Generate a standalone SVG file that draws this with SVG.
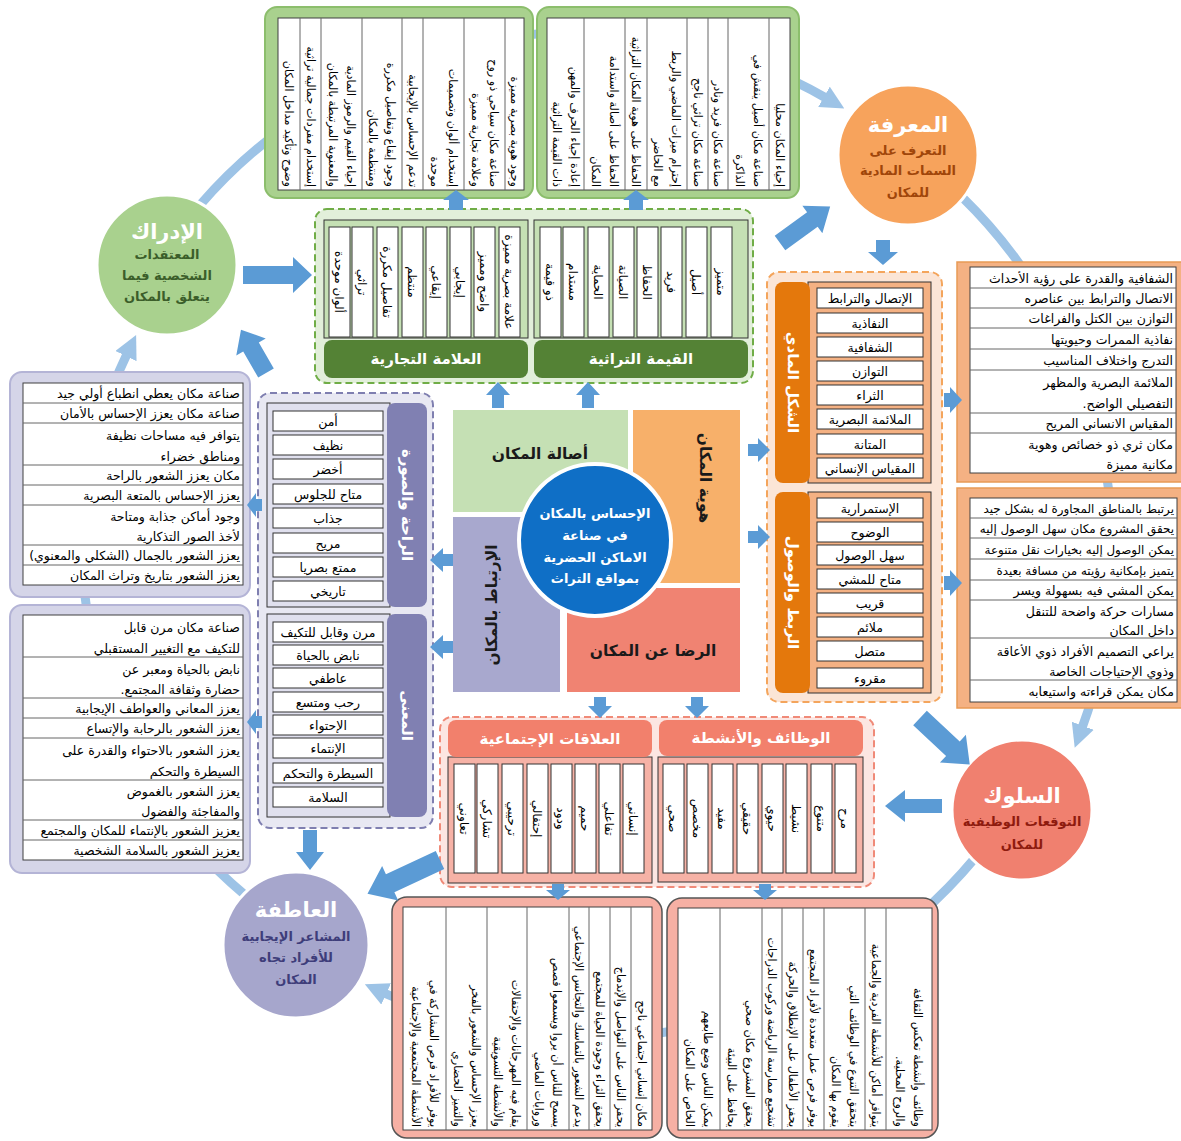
<svg xmlns="http://www.w3.org/2000/svg" width="1181" height="1141" viewBox="0 0 1181 1141">
<defs>
<style>
text{font-family:"DejaVu Sans","Liberation Sans",sans-serif;direction:rtl}
.ct{font-size:11.2px;fill:#000}
.cw{font-size:12px;fill:#000;text-anchor:middle}
.lt{font-size:12.5px;fill:#000}
.ls{font-size:11.9px;fill:#000}
.it{font-size:12.5px;fill:#000;text-anchor:middle}
.hd{font-size:15px;font-weight:bold;fill:#fff;text-anchor:middle}
.ti{font-size:21px;font-weight:bold;fill:#fff;text-anchor:middle}
.st{font-size:13px;font-weight:bold;text-anchor:middle}
.sq{font-size:15.5px;font-weight:bold;fill:#1a1a1a;text-anchor:middle}
.cell{fill:#fff;stroke:#333;stroke-width:1}
.box{fill:#fff;stroke:#333;stroke-width:1}
.tbl{fill:#fff;stroke:#404040;stroke-width:1}
.ln{stroke:#666;stroke-width:1;fill:none}
.ba{fill:#5B9BD5}
.cyc{fill:none;stroke:#9DC3E6;stroke-width:9;marker-end:url(#ah)}
</style>
<marker id="ah" viewBox="0 0 10 10" refX="1" refY="5" markerWidth="2.6" markerHeight="2.6" orient="auto" markerUnits="strokeWidth"><path d="M0,0 L10,5 L0,10 z" fill="#9DC3E6"/></marker>
</defs>
<rect width="1181" height="1141" fill="#fff"/>

<g id="cycle-arcs">
<path class="cyc" d="M200 205 A 500 500 0 0 1 826 98"/>
<path class="cyc" d="M962 197 A 500 500 0 0 1 1082 728"/>
<path class="cyc" d="M975 858 A 500 500 0 0 1 384 993"/>
<path class="cyc" d="M245 895 A 450 450 0 0 1 127 354"/>
</g>

<g id="perception-list">
<rect x="265" y="7" width="268" height="191" rx="12" fill="#A9D18E" stroke="#8CBE6C" stroke-width="2"/>
<rect class="tbl" x="278" y="18" width="246" height="172"/>
<path class="ln" d="M300 18V190M321 18V190M362 18V190M402 18V190M423 18V190M464 18V190M505 18V190"/>
<text class="ct" transform="translate(514.5,187) rotate(90)" y="3.9">وجود هوية بصرية مميزة</text>
<text class="ct" transform="translate(484.5,187) rotate(90)"><tspan x="0" y="-5.1">صناعة مكان سياحي ذو روح</tspan><tspan x="0" y="12.9">وعلامة تجارية مميزة</tspan></text>
<text class="ct" transform="translate(443.5,187) rotate(90)"><tspan x="0" y="-5.1">إستخدام ألوان وتصميمات</tspan><tspan x="0" y="12.9">موحدة</tspan></text>
<text class="ct" transform="translate(412.5,187) rotate(90)" y="3.9">تدعم الإحساس بالإيجابية</text>
<text class="ct" transform="translate(382,187) rotate(90)"><tspan x="0" y="-5.1">وجود إيقاع وتفاصيل مكررة</tspan><tspan x="0" y="12.9">ومنتظمة بالمكان</tspan></text>
<text class="ct" transform="translate(341.5,187) rotate(90)"><tspan x="0" y="-5.1">إحياء القيم والرموز المادية</tspan><tspan x="0" y="12.9">والمعنوية المرتبطة بالمكان</tspan></text>
<text class="ct" transform="translate(310.5,187) rotate(90)" y="3.9">إستخدام مفردات جمالية تراثية</text>
<text class="ct" transform="translate(289,187) rotate(90)" y="3.9">وضوح وتأكيد مداخل المكان</text>
</g>

<g id="heritage-list">
<rect x="537" y="7" width="262" height="191" rx="12" fill="#A9D18E" stroke="#8CBE6C" stroke-width="2"/>
<rect class="tbl" x="547" y="18" width="243" height="172"/>
<path class="ln" d="M584 18V190M625 18V190M647 18V190M687 18V190M708 18V190M728 18V190M769 18V190"/>
<text class="ct" transform="translate(779.5,187) rotate(90)" y="3.9">إحياء المكان محليا</text>
<text class="ct" transform="translate(748.5,187) rotate(90)"><tspan x="0" y="-5.1">صناعة مكان أصيل ينقش في</tspan><tspan x="0" y="12.9">الذاكرة</tspan></text>
<text class="ct" transform="translate(718,187) rotate(90)" y="3.9">صناعة مكان فريد ونادر</text>
<text class="ct" transform="translate(697.5,187) rotate(90)" y="3.9">صناعة مكان تراثي ناجح</text>
<text class="ct" transform="translate(667,187) rotate(90)"><tspan x="0" y="-5.1">إحترام ميزات الماضي والربط</tspan><tspan x="0" y="12.9">مع الحاضر</tspan></text>
<text class="ct" transform="translate(636,187) rotate(90)" y="3.9">الحفاظ على هوية المكان التراثية</text>
<text class="ct" transform="translate(604.5,187) rotate(90)"><tspan x="0" y="-5.1">الحفاظ على أصالة واستدامة</tspan><tspan x="0" y="12.9">المكان</tspan></text>
<text class="ct" transform="translate(565.5,187) rotate(90)"><tspan x="0" y="-5.1">إعادة إحياء الحرف والمهن</tspan><tspan x="0" y="12.9">ذات القيمة التراثية</tspan></text>
</g>

<g id="authenticity-group">
<rect x="315" y="209" width="438" height="174" rx="12" fill="#E2EFDA" stroke="#70AD47" stroke-width="2" stroke-dasharray="7 4"/>
<rect x="324" y="220" width="204" height="118" fill="#C5E0B4" stroke="#333"/>
<rect x="324" y="340" width="204" height="38" rx="8" fill="#548235"/>
<text class="hd" x="426" y="364">العلامة التجارية</text>
<rect class="cell" x="329" y="227" width="21" height="110"/>
<rect class="cell" x="352" y="227" width="21" height="110"/>
<rect class="cell" x="377" y="227" width="21" height="110"/>
<rect class="cell" x="402" y="227" width="21" height="110"/>
<rect class="cell" x="426" y="227" width="21" height="110"/>
<rect class="cell" x="450" y="227" width="21" height="110"/>
<rect class="cell" x="474" y="227" width="21" height="110"/>
<rect class="cell" x="499" y="227" width="21" height="110"/>
<text class="cw" transform="translate(339.5,282) rotate(90)" y="4.2">ألوان موحدة</text>
<text class="cw" transform="translate(362.5,282) rotate(90)" y="4.2">تراثي</text>
<text class="cw" transform="translate(387.5,282) rotate(90)" y="4.2">تفاصيل مكررة</text>
<text class="cw" transform="translate(412.5,282) rotate(90)" y="4.2">منتظم</text>
<text class="cw" transform="translate(436.5,282) rotate(90)" y="4.2">إيقاعي</text>
<text class="cw" transform="translate(460.5,282) rotate(90)" y="4.2">إيجابي</text>
<text class="cw" transform="translate(484.5,282) rotate(90)" y="4.2">واضح ومميز</text>
<text class="cw" transform="translate(509.5,282) rotate(90)" y="4.2">علامة بصرية مميزة</text>
<rect x="534" y="220" width="214" height="118" fill="#C5E0B4" stroke="#333"/>
<rect x="534" y="340" width="214" height="38" rx="8" fill="#548235"/>
<text class="hd" x="641" y="364">القيمة التراثية</text>
<rect class="cell" x="540" y="227" width="21" height="110"/>
<rect class="cell" x="563" y="227" width="21" height="110"/>
<rect class="cell" x="588" y="227" width="21" height="110"/>
<rect class="cell" x="613" y="227" width="21" height="110"/>
<rect class="cell" x="637" y="227" width="21" height="110"/>
<rect class="cell" x="661" y="227" width="21" height="110"/>
<rect class="cell" x="686" y="227" width="21" height="110"/>
<rect class="cell" x="711" y="227" width="21" height="110"/>
<text class="cw" transform="translate(550.5,282) rotate(90)" y="4.2">ذو قيمة</text>
<text class="cw" transform="translate(573.5,282) rotate(90)" y="4.2">مستدام</text>
<text class="cw" transform="translate(598.5,282) rotate(90)" y="4.2">الحماية</text>
<text class="cw" transform="translate(623.5,282) rotate(90)" y="4.2">الصيانة</text>
<text class="cw" transform="translate(647.5,282) rotate(90)" y="4.2">الحفاظ</text>
<text class="cw" transform="translate(671.5,282) rotate(90)" y="4.2">فريد</text>
<text class="cw" transform="translate(696.5,282) rotate(90)" y="4.2">أصيل</text>
<text class="cw" transform="translate(721.5,282) rotate(90)" y="4.2">متميز</text>
</g>

<g id="identity-group">
<rect x="767" y="272" width="175" height="430" rx="12" fill="#FBE5D6" stroke="#F4A55C" stroke-width="2" stroke-dasharray="7 4"/>
<rect x="808" y="282" width="123" height="201" fill="#F4B183" stroke="#333"/>
<rect x="775" y="282" width="35" height="201" rx="8" fill="#E4780C"/>
<text class="hd" transform="translate(792.5,382.5) rotate(90)" y="5">الشكل المادي</text>
<rect class="box" x="817" y="288" width="106" height="20"/>
<rect class="box" x="817" y="313" width="106" height="20"/>
<rect class="box" x="817" y="337" width="106" height="20"/>
<rect class="box" x="817" y="361" width="106" height="20"/>
<rect class="box" x="817" y="385" width="106" height="20"/>
<rect class="box" x="817" y="409" width="106" height="20"/>
<rect class="box" x="817" y="434" width="106" height="20"/>
<rect class="box" x="817" y="458" width="106" height="20"/>
<text class="it" x="870" y="302.5">الإتصال والترابط</text>
<text class="it" x="870" y="327.5">النفاذية</text>
<text class="it" x="870" y="351.5">الشفافية</text>
<text class="it" x="870" y="375.5">التوازن</text>
<text class="it" x="870" y="399.5">الثراء</text>
<text class="it" x="870" y="423.5">الملائمة البصرية</text>
<text class="it" x="870" y="448.5">المتانة</text>
<text class="it" x="870" y="472.5">المقياس الإنساني</text>
<rect x="808" y="492" width="123" height="201" fill="#F4B183" stroke="#333"/>
<rect x="775" y="492" width="35" height="201" rx="8" fill="#E4780C"/>
<text class="hd" transform="translate(792.5,592.5) rotate(90)" y="5">الربط والوصول</text>
<rect class="box" x="817" y="498" width="106" height="20"/>
<rect class="box" x="817" y="522" width="106" height="20"/>
<rect class="box" x="817" y="545" width="106" height="20"/>
<rect class="box" x="817" y="569" width="106" height="20"/>
<rect class="box" x="817" y="593" width="106" height="20"/>
<rect class="box" x="817" y="617" width="106" height="20"/>
<rect class="box" x="817" y="641" width="106" height="20"/>
<rect class="box" x="817" y="668" width="106" height="20"/>
<text class="it" x="870" y="512.5">الإستمرارية</text>
<text class="it" x="870" y="536.5">الوضوح</text>
<text class="it" x="870" y="559.5">سهل الوصول</text>
<text class="it" x="870" y="583.5">متاح للمشي</text>
<text class="it" x="870" y="607.5">قريب</text>
<text class="it" x="870" y="631.5">ملائم</text>
<text class="it" x="870" y="655.5">متصل</text>
<text class="it" x="870" y="682.5">مقروء</text>
</g>

<g id="form-list">
<rect x="957" y="262" width="226" height="220" fill="#F4B183" stroke="#E89A55" stroke-width="1.5"/>
<rect class="tbl" x="970" y="267" width="206" height="206"/>
<path class="ln" d="M970 288H1176M970 308H1176M970 328H1176M970 349H1176M970 370H1176M970 413H1176M970 433H1176"/>
<text class="lt" x="1173" y="282.5">الشفافية والقدرة على رؤية الأحداث</text>
<text class="lt" x="1173" y="302.5">الاتصال والترابط بين عناصره</text>
<text class="lt" x="1173" y="322.5">التوازن بين الكتل والفراغات</text>
<text class="lt" x="1173" y="343.5">نفاذية الممرات وحيويتها</text>
<text class="lt" x="1173" y="364.5">التدرج واختلاف المناسيب</text>
<text class="lt" x="1173" y="386.5">الملائمة البصرية والمظهر</text>
<text class="lt" x="1173" y="407.5">التفصيلي الواضح.</text>
<text class="lt" x="1173" y="427.5">المقياس الانساني المريح</text>
<text class="lt" x="1173" y="448.5">مكان ثري ذو خصائص وهوية</text>
<text class="lt" x="1173" y="468.5">مكانية مميزة</text>
</g>

<g id="access-list">
<rect x="957" y="488" width="226" height="220" fill="#F4B183" stroke="#E89A55" stroke-width="1.5"/>
<rect class="tbl" x="970" y="498" width="207" height="204"/>
<path class="ln" d="M970 518H1177M970 538H1177M970 559H1177M970 580H1177M970 600H1177M970 638H1177M970 680H1177"/>
<text class="ls" x="1174" y="512.5">يرتبط بالمناطق المجاورة له بشكل جيد</text>
<text class="ls" x="1174" y="532.5">يحقق المشروع مكان سهل الوصول إليه</text>
<text class="ls" x="1174" y="553.5">يمكن الوصول إليه بخيارات نقل متنوعة</text>
<text class="ls" x="1174" y="574.5">يتميز بإمكانية رؤيته من مسافة بعيدة</text>
<text class="lt" x="1174" y="594.5">يمكن المشي فيه بسهولة ويسر</text>
<text class="lt" x="1174" y="615.5">مسارات حركة واضحة للتنقل</text>
<text class="lt" x="1174" y="634.5">داخل المكان</text>
<text class="lt" x="1174" y="655.5">يراعي التصميم الأفراد ذوي الأعاقة</text>
<text class="lt" x="1174" y="675.5">وذوي الإحتياجات الخاصة</text>
<text class="lt" x="1174" y="695.5">مكان يمكن قراءته واستيعابه</text>
</g>

<g id="comfort-list">
<rect x="10" y="372" width="240" height="225" rx="12" fill="#D5D5E8" stroke="#B4B4D6" stroke-width="2"/>
<rect class="tbl" x="23" y="383" width="220" height="202"/>
<path class="ln" d="M23 403H243M23 423H243M23 465H243M23 485H243M23 505H243M23 545H243M23 565H243"/>
<text class="lt" x="240" y="397.5">صناعة مكان يعطي انطباع أولي جيد</text>
<text class="lt" x="240" y="417.5">صناعة مكان يعزز الإحساس بالأمان</text>
<text class="lt" x="240" y="439.5">يتوافر فيه مساحات نظيفة</text>
<text class="lt" x="240" y="460.5">ومناطق خضراء</text>
<text class="lt" x="240" y="479.5">مكان يعزز الشعور بالراحة</text>
<text class="lt" x="240" y="499.5">يعزز الإحساس بالمتعة البصرية</text>
<text class="lt" x="240" y="520.5">وجود أماكن جذابة ومتاحة</text>
<text class="lt" x="240" y="540.5">لأخذ الصور التذكارية</text>
<text class="lt" x="240" y="559.5">يعزز الشعور بالجمال (الشكلي والمعنوي)</text>
<text class="lt" x="240" y="579.5">يعزز الشعور بتاريخ وتراث المكان</text>
</g>

<g id="meaning-list">
<rect x="10" y="605" width="240" height="268" rx="12" fill="#D5D5E8" stroke="#B4B4D6" stroke-width="2"/>
<rect class="tbl" x="23" y="615" width="220" height="245"/>
<path class="ln" d="M23 657H243M23 698H243M23 718H243M23 738H243M23 780H243M23 820H243M23 840H243"/>
<text class="lt" x="240" y="631.5">صناعة مكان مرن قابل</text>
<text class="lt" x="240" y="652.5">للتكيف مع التغيير المستقبلي</text>
<text class="lt" x="240" y="673.5">نابض بالحياة ومعبر عن</text>
<text class="lt" x="240" y="693.5">حضارة وثقافة المجتمع.</text>
<text class="lt" x="240" y="712.5">يعزز المعاني والعواطف الإيجابية</text>
<text class="lt" x="240" y="732.5">يعزز الشعور بالرحابة والإتساع</text>
<text class="lt" x="240" y="754.5">يعزز الشعور بالاحتواء والقدرة على</text>
<text class="lt" x="240" y="775.5">السيطرة والتحكم</text>
<text class="lt" x="240" y="795.5">يعزز الشعور بالغموض</text>
<text class="lt" x="240" y="815.5">والمفاجئة والفضول</text>
<text class="lt" x="240" y="834.5">يعزيز الشعور بالإنتماء للمكان والمجتمع</text>
<text class="lt" x="240" y="854.5">يعزيز الشعور بالسلامة الشخصية</text>
</g>

<g id="attachment-group">
<rect x="258" y="393" width="175" height="435" rx="12" fill="#E8E8F2" stroke="#7F7FB0" stroke-width="2" stroke-dasharray="7 4"/>
<rect x="267" y="403" width="123" height="204" fill="#E0E0EE" stroke="#333"/>
<rect x="387" y="403" width="40" height="204" rx="8" fill="#8080B2"/>
<text class="hd" transform="translate(407,505) rotate(90)" y="5">الراحة والصورة</text>
<rect class="box" x="273" y="411" width="110" height="20"/>
<rect class="box" x="273" y="435" width="110" height="20"/>
<rect class="box" x="273" y="459" width="110" height="20"/>
<rect class="box" x="273" y="484" width="110" height="20"/>
<rect class="box" x="273" y="508" width="110" height="20"/>
<rect class="box" x="273" y="533" width="110" height="20"/>
<rect class="box" x="273" y="557" width="110" height="20"/>
<rect class="box" x="273" y="581" width="110" height="20"/>
<text class="it" x="328" y="425.5">أمن</text>
<text class="it" x="328" y="449.5">نظيف</text>
<text class="it" x="328" y="473.5">أخضر</text>
<text class="it" x="328" y="498.5">متاح للجلوس</text>
<text class="it" x="328" y="522.5">جذاب</text>
<text class="it" x="328" y="547.5">مريح</text>
<text class="it" x="328" y="571.5">ممتع بصريا</text>
<text class="it" x="328" y="595.5">تاريخي</text>
<rect x="267" y="614" width="123" height="203" fill="#E0E0EE" stroke="#333"/>
<rect x="387" y="614" width="40" height="203" rx="8" fill="#8080B2"/>
<text class="hd" transform="translate(407,715.5) rotate(90)" y="5">المعنى</text>
<rect class="box" x="273" y="622" width="110" height="20"/>
<rect class="box" x="273" y="645" width="110" height="20"/>
<rect class="box" x="273" y="668" width="110" height="20"/>
<rect class="box" x="273" y="692" width="110" height="20"/>
<rect class="box" x="273" y="715" width="110" height="20"/>
<rect class="box" x="273" y="738" width="110" height="20"/>
<rect class="box" x="273" y="763" width="110" height="20"/>
<rect class="box" x="273" y="787" width="110" height="20"/>
<text class="it" x="328" y="636.5">مرن وقابل للتكيف</text>
<text class="it" x="328" y="659.5">نابض بالحياة</text>
<text class="it" x="328" y="682.5">عاطفي</text>
<text class="it" x="328" y="706.5">رحب ومتسع</text>
<text class="it" x="328" y="729.5">الإحتواء</text>
<text class="it" x="328" y="752.5">الإنتماء</text>
<text class="it" x="328" y="777.5">السيطرة والتحكم</text>
<text class="it" x="328" y="801.5">السلامة</text>
</g>

<g id="satisfaction-group">
<rect x="440" y="717" width="434" height="170" rx="12" fill="#FCE6E2" stroke="#F08A78" stroke-width="2" stroke-dasharray="7 4"/>
<rect x="448" y="757" width="204" height="126" fill="#F6B2A6" stroke="#333"/>
<rect x="448" y="720" width="204" height="37" rx="8" fill="#F2806C"/>
<text class="hd" x="550" y="744">العلاقات الإجتماعية</text>
<rect class="cell" x="454" y="764" width="21" height="109"/>
<rect class="cell" x="477" y="764" width="21" height="109"/>
<rect class="cell" x="502" y="764" width="21" height="109"/>
<rect class="cell" x="527" y="764" width="21" height="109"/>
<rect class="cell" x="551" y="764" width="21" height="109"/>
<rect class="cell" x="575" y="764" width="21" height="109"/>
<rect class="cell" x="599" y="764" width="21" height="109"/>
<rect class="cell" x="623" y="764" width="21" height="109"/>
<text class="cw" transform="translate(464.5,818.5) rotate(90)" y="4.2">تعاوني</text>
<text class="cw" transform="translate(487.5,818.5) rotate(90)" y="4.2">تشاركي</text>
<text class="cw" transform="translate(512.5,818.5) rotate(90)" y="4.2">ترحيبي</text>
<text class="cw" transform="translate(537.5,818.5) rotate(90)" y="4.2">إحتفالي</text>
<text class="cw" transform="translate(561.5,818.5) rotate(90)" y="4.2">ودود</text>
<text class="cw" transform="translate(585.5,818.5) rotate(90)" y="4.2">حميم</text>
<text class="cw" transform="translate(609.5,818.5) rotate(90)" y="4.2">تفاعلي</text>
<text class="cw" transform="translate(633.5,818.5) rotate(90)" y="4.2">إنساني</text>
<rect x="658" y="757" width="205" height="125" fill="#F6B2A6" stroke="#333"/>
<rect x="659" y="720" width="204" height="36" rx="8" fill="#F2806C"/>
<text class="hd" x="761" y="743">الوظائف والأنشطة</text>
<rect class="cell" x="663" y="764" width="21" height="109"/>
<rect class="cell" x="687" y="764" width="21" height="109"/>
<rect class="cell" x="712" y="764" width="21" height="109"/>
<rect class="cell" x="737" y="764" width="21" height="109"/>
<rect class="cell" x="762" y="764" width="21" height="109"/>
<rect class="cell" x="786" y="764" width="21" height="109"/>
<rect class="cell" x="811" y="764" width="21" height="109"/>
<rect class="cell" x="835" y="764" width="21" height="109"/>
<text class="cw" transform="translate(673.5,818.5) rotate(90)" y="4.2">صحي</text>
<text class="cw" transform="translate(697.5,818.5) rotate(90)" y="4.2">مخصص</text>
<text class="cw" transform="translate(722.5,818.5) rotate(90)" y="4.2">مفيد</text>
<text class="cw" transform="translate(747.5,818.5) rotate(90)" y="4.2">حقيقي</text>
<text class="cw" transform="translate(772.5,818.5) rotate(90)" y="4.2">حيوي</text>
<text class="cw" transform="translate(796.5,818.5) rotate(90)" y="4.2">نشيط</text>
<text class="cw" transform="translate(821.5,818.5) rotate(90)" y="4.2">متنوع</text>
<text class="cw" transform="translate(845.5,818.5) rotate(90)" y="4.2">مرح</text>
</g>

<g id="social-list">
<rect x="392" y="897" width="270" height="241" rx="15" fill="#F6B0A4" stroke="#555" stroke-width="1.5"/>
<rect class="tbl" x="403" y="907" width="249" height="223"/>
<path class="ln" d="M446 907V1130M487 907V1130M527 907V1130M569 907V1130M589 907V1130M610 907V1130M631 907V1130"/>
<text class="ct" transform="translate(641.5,1127) rotate(90)" y="3.9">مكان إنساني اجتماعي ناجح</text>
<text class="ct" transform="translate(620.5,1127) rotate(90)" y="3.9">يحفز الناس على التواصل والإندماج</text>
<text class="ct" transform="translate(599.5,1127) rotate(90)" y="3.9">يحقق الثراء وجودة الحياة للمجتمع</text>
<text class="ct" transform="translate(579,1127) rotate(90)" y="3.9">يدعم الشعور بالتماسك والتجانس الإجتماعي</text>
<text class="ct" transform="translate(548,1127) rotate(90)"><tspan x="0" y="-5.1">يسمح للناس أن يروا ويسمعوا قصص</tspan><tspan x="0" y="12.9">وروايات الماضي</tspan></text>
<text class="ct" transform="translate(507,1127) rotate(90)"><tspan x="0" y="-5.1">يقام فيه المهرجانات والإحتفالات</tspan><tspan x="0" y="12.9">والأنشطة التسويقية</tspan></text>
<text class="ct" transform="translate(466.5,1127) rotate(90)"><tspan x="0" y="-5.1">يعزز الإحساس والشعور بالفخر</tspan><tspan x="0" y="12.9">والتميز الحضاري</tspan></text>
<text class="ct" transform="translate(424.5,1127) rotate(90)"><tspan x="0" y="-5.1">يوفر للأفراد فرص المشاركة في</tspan><tspan x="0" y="12.9">الأنشطة المجتمعية والإجتماعية</tspan></text>
</g>

<g id="activities-list">
<rect x="667" y="898" width="271" height="240" rx="15" fill="#F6B0A4" stroke="#555" stroke-width="1.5"/>
<rect class="tbl" x="678" y="908" width="254" height="222"/>
<path class="ln" d="M720 908V1130M762 908V1130M782 908V1130M803 908V1130M824 908V1130M865 908V1130M886 908V1130"/>
<text class="ct" transform="translate(909,1127) rotate(90)"><tspan x="0" y="-5.1">وظائف وأنشطة تعكس الثقافة</tspan><tspan x="0" y="12.9">والروح المحلية.</tspan></text>
<text class="ct" transform="translate(875.5,1127) rotate(90)" y="3.9">يتوافر أماكن للأنشطة الفردية والجماعية</text>
<text class="ct" transform="translate(844.5,1127) rotate(90)"><tspan x="0" y="-5.1">يتحقق التنوع في الوظائف التي</tspan><tspan x="0" y="12.9">يقوم بها المكان</tspan></text>
<text class="ct" transform="translate(813.5,1127) rotate(90)" y="3.9">يوفر فرص عمل متعددة لأفراد المجتمع</text>
<text class="ct" transform="translate(792.5,1127) rotate(90)" y="3.9">يحفز الأطفال على الإنطلاق والحركة</text>
<text class="ct" transform="translate(772,1127) rotate(90)" y="3.9">تشجيع ممارسة الرياضة وركوب الدراجات</text>
<text class="ct" transform="translate(741,1127) rotate(90)"><tspan x="0" y="-5.1">يحقق المشروع مكان صحي</tspan><tspan x="0" y="12.9">يحافظ على البيئة</tspan></text>
<text class="ct" transform="translate(699,1127) rotate(90)"><tspan x="0" y="-5.1">يمكن الناس وضع طابعهم</tspan><tspan x="0" y="12.9">الخاص على المكان</tspan></text>
</g>

<g id="center-quadrants">
<rect x="453" y="410" width="175" height="102" fill="#C5E0B4"/>
<rect x="633" y="410" width="107" height="173" fill="#F7B06A"/>
<rect x="567" y="588" width="173" height="104" fill="#F08372"/>
<rect x="453" y="517" width="107" height="175" fill="#A8A8CE"/>
<text class="sq" x="540" y="459">أصالة المكان</text>
<text class="sq" transform="translate(705,478) rotate(90)" y="5">هوية المكان</text>
<text class="sq" x="653" y="656">الرضا عن المكان</text>
<text class="sq" transform="translate(492,605) rotate(-90)" y="5">الإرتباط بالمكان</text>
</g>

<g id="center-node">
<circle cx="595" cy="540" r="76" fill="#0F6FC6" stroke="#fff" stroke-width="4"/>
<text class="st" x="595" y="518" fill="#fff">الإحساس بالمكان</text>
<text class="st" x="595" y="540" fill="#fff">في صناعة</text>
<text class="st" x="595" y="562" fill="#fff">الاماكن الحضرية</text>
<text class="st" x="595" y="583" fill="#fff">بمواقع التراث</text>
</g>

<g id="node-knowledge">
<circle cx="908" cy="155" r="70" fill="#F7A35C" stroke="#fff" stroke-width="3"/>
<text class="ti" x="908" y="132">المعرفة</text>
<text class="st" x="908" y="155" fill="#A0460A">التعرف على</text>
<text class="st" x="908" y="175" fill="#A0460A">السمات المادية</text>
<text class="st" x="908" y="197" fill="#A0460A">للمكان</text>
</g>

<g id="node-perception">
<circle cx="167" cy="265" r="70" fill="#A9D18E" stroke="#fff" stroke-width="3"/>
<text class="ti" x="167" y="239">الإدراك</text>
<text class="st" x="167" y="259" fill="#3B5E2A">المعتقدات</text>
<text class="st" x="167" y="280" fill="#3B5E2A">الشخصية فيما</text>
<text class="st" x="167" y="301" fill="#3B5E2A">يتعلق بالمكان</text>
</g>

<g id="node-emotion">
<circle cx="296" cy="945" r="73" fill="#A6A6CC" stroke="#fff" stroke-width="3"/>
<text class="ti" x="296" y="917">العاطفة</text>
<text class="st" x="296" y="941" fill="#3E3D7A">المشاعر الإيجابية</text>
<text class="st" x="296" y="962" fill="#3E3D7A">للأفراد تجاه</text>
<text class="st" x="296" y="984" fill="#3E3D7A">المكان</text>
</g>

<g id="node-behavior">
<circle cx="1022" cy="810" r="70" fill="#F0806F" stroke="#fff" stroke-width="3"/>
<text class="ti" x="1022" y="803">السلوك</text>
<text class="st" x="1022" y="826" fill="#8E1B0E">التوقعات الوظيفية</text>
<text class="st" x="1022" y="849" fill="#8E1B0E">للمكان</text>
</g>

<g id="connectors">
<polygon class="ba" points="876,240 890,240 890,252 898,252 883,265 868,252 876,252"/>
<polygon class="ba" points="944,393 950,393 950,387 962,400 950,413 950,407 944,407"/>
<polygon class="ba" points="944,576 950,576 950,570 962,583 950,596 950,590 944,590"/>
<polygon class="ba" points="748,444 758,444 758,438 770,450 758,462 758,456 748,456"/>
<polygon class="ba" points="748,531 758,531 758,525 770,537 758,549 758,543 748,543"/>
<polygon class="ba" points="492,408 492,395 486,395 498,382 510,395 504,395 504,408"/>
<polygon class="ba" points="582,408 582,395 576,395 588,382 600,395 594,395 594,408"/>
<polygon class="ba" points="449,210 449,200 443,200 456,190 469,200 463,200 463,210"/>
<polygon class="ba" points="629,210 629,200 623,200 636,190 649,200 643,200 643,210"/>
<polygon class="ba" points="243,266 293,266 293,257 312,275 293,293 293,284 243,284"/>
<polygon class="ba" transform="translate(780,243) rotate(-36)" points="0,-9 40,-9 40,-17 62,0 40,17 40,9 0,9"/>
<polygon class="ba" points="453,554 443,554 443,548 430,560 443,572 443,566 453,566"/>
<polygon class="ba" points="453,641 443,641 443,635 430,647 443,659 443,653 453,653"/>
<polygon class="ba" points="262,499 256,499 256,493 247,505 256,517 256,511 262,511"/>
<polygon class="ba" points="262,716 256,716 256,710 247,722 256,734 256,728 262,728"/>
<polygon class="ba" transform="translate(266,373) rotate(-120)" points="0,-9 30,-9 30,-17 50,0 30,17 30,9 0,9"/>
<polygon class="ba" points="303,830 317,830 317,852 324,852 310,870 296,852 303,852"/>
<polygon class="ba" transform="translate(440,860) rotate(155)" points="0,-10 55,-10 55,-19 80,0 55,19 55,10 0,10"/>
<polygon class="ba" points="594,697 606,697 606,706 612,706 600,718 588,706 594,706"/>
<polygon class="ba" points="691,697 703,697 703,706 709,706 697,718 685,706 691,706"/>
<polygon class="ba" points="552,884 564,884 564,890 570,890 558,900 546,890 552,890"/>
<polygon class="ba" points="759,884 771,884 771,890 777,890 765,900 753,890 759,890"/>
<polygon class="ba" points="942,799 905,799 905,790 885,806 905,822 905,813 942,813"/>
<polygon class="ba" transform="translate(920,718) rotate(43)" points="0,-10 45,-10 45,-19 68,0 45,19 45,10 0,10"/>
</g>
</svg>
